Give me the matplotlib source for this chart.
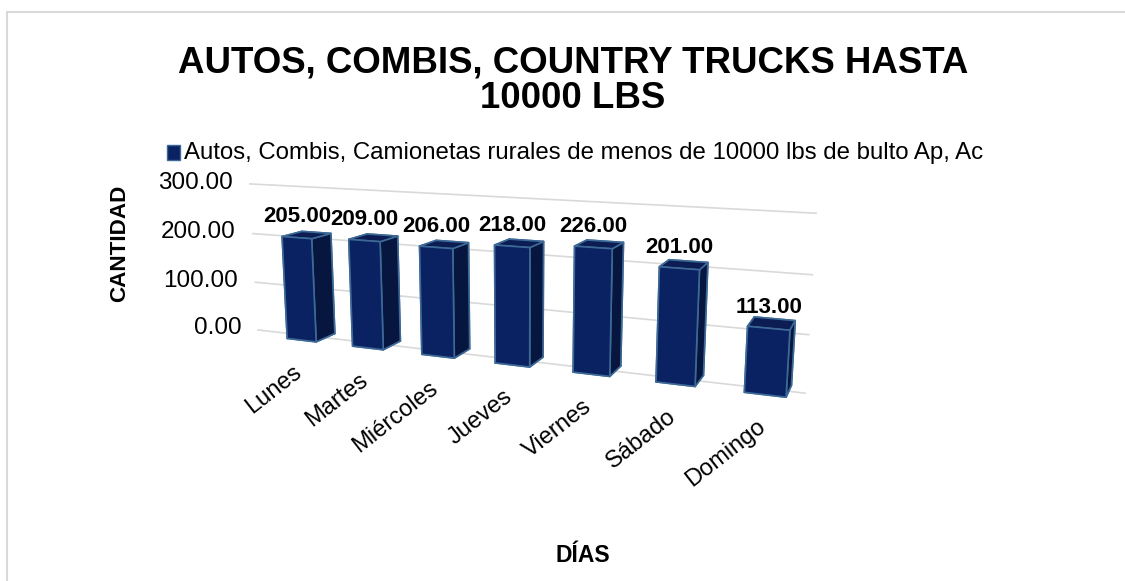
import matplotlib
matplotlib.use("Agg")
import matplotlib.pyplot as plt
from matplotlib.patches import Rectangle
from mpl_toolkits.mplot3d import proj3d
import numpy as np

plt.rcParams['font.family'] = ['Liberation Sans', 'DejaVu Sans']

# ---- data ----
days = ["Lunes", "Martes", "Miércoles", "Jueves", "Viernes", "Sábado", "Domingo"]
counts = [205.00, 209.00, 206.00, 218.00, 226.00, 201.00, 113.00]
y_ticks = [0, 100, 200, 300]
series_name = "Autos, Combis, Camionetas rurales de menos de 10000 lbs de bulto Ap, Ac"
title = "AUTOS, COMBIS, COUNTRY TRUCKS HASTA\n10000 LBS"
x_title = "DÍAS"
y_title = "CANTIDAD"

# ---- style ----
front_col = "#0a2162"
side_col = "#06163f"
top_col = "#0b1d52"
edge_col = "#3d6996"
grid_col = "#d9d9d9"

W, H = 1125, 581
fig = plt.figure(figsize=(W / 100, H / 100), dpi=100)

# chart-area border
fig.patches.append(Rectangle((7 / W, -0.1), 1.2, 1 - 12.5 / H + 0.1,
                             transform=fig.transFigure, fill=False,
                             edgecolor=grid_col, linewidth=1.5))

fig.text(573 / W, 1 - 81 / H, title, ha="center", va="center",
         fontsize=26.4, fontweight="bold", linespacing=1.0)

# legend
fig.patches.append(Rectangle((167 / W, 1 - 160 / H), 13 / W, 15 / H,
                             transform=fig.transFigure, facecolor=front_col,
                             edgecolor=edge_col, linewidth=1))
fig.text(184 / W, 1 - 153 / H, series_name, ha="left", va="center",
         fontsize=17.3)

fig.text(120 / W, 1 - 243 / H, y_title, rotation=90, ha="center",
         va="center", fontsize=16.2, fontweight="bold")
fig.text(583 / W, 1 - 555 / H, x_title, ha="center", va="center",
         fontsize=16.5, fontweight="bold")

# 3D plot area (square panel)
side = 600
cx, cy = 512, 288
ax = fig.add_axes([(cx - side / 2) / W, (H - cy - side / 2) / H, side / W, side / H],
                  projection="3d", computed_zorder=False)
ax.patch.set_alpha(0)
ax.set_proj_type("persp", focal_length=0.31)
ax.view_init(elev=12, azim=-68)
ax.set_axis_off()
depth = 0.5
ax.set_xlim(-0.5, 6.5)
ax.set_ylim(0, depth)
ax.set_zlim(0, 300)
ax.set_box_aspect((7, depth, 2.0), zoom=0.977)

# value gridlines on a vertical plane, drawn underneath the columns
grid_y = 0.22
grid_x = [-0.85, 6.4]
for t in y_ticks:
    ln, = ax.plot(grid_x, [grid_y, grid_y], [t, t], color=grid_col,
                  linewidth=1.2, zorder=1)
    ln.set_clip_on(False)

xs = np.arange(len(days))
w = 0.45
face_colors = []
for _ in days:
    # bar3d face order: bottom, top, front, back, left, right
    face_colors += [front_col, top_col, front_col, front_col, side_col, side_col]
bars = ax.bar3d(xs - w / 2, np.zeros(len(xs)), np.zeros(len(xs)), w, w, counts,
                color=face_colors, edgecolor=edge_col, linewidth=1.2,
                shade=False, zorder=2)
bars.set_clip_on(False)

M = ax.get_proj()


def to2d(x, y, z):
    px, py, _ = proj3d.proj_transform(x, y, z, M)
    return px, py


for t in y_ticks:
    px, py = to2d(grid_x[0] - 0.28, grid_y, t)
    ax.text2D(px, py, f"{t:.2f}", transform=ax.transData, ha="right",
              va="center", fontsize=17.5, zorder=3, clip_on=False)

for x, v in zip(xs, counts):
    px, py = to2d(x, 0, v)
    ax.text2D(px, py + 0.0033, f"{v:.2f}", transform=ax.transData,
              ha="center", va="bottom", fontsize=16, fontweight="bold",
              zorder=4, clip_on=False)

for x, d in zip(xs, days):
    px, py = to2d(x, 0, 0)
    ax.text2D(px - 0.0028, py - 0.0065, d, transform=ax.transData, ha="right",
              va="top", rotation=38, rotation_mode="anchor", fontsize=17,
              zorder=4, clip_on=False)

fig.savefig("out.png", dpi=100)
